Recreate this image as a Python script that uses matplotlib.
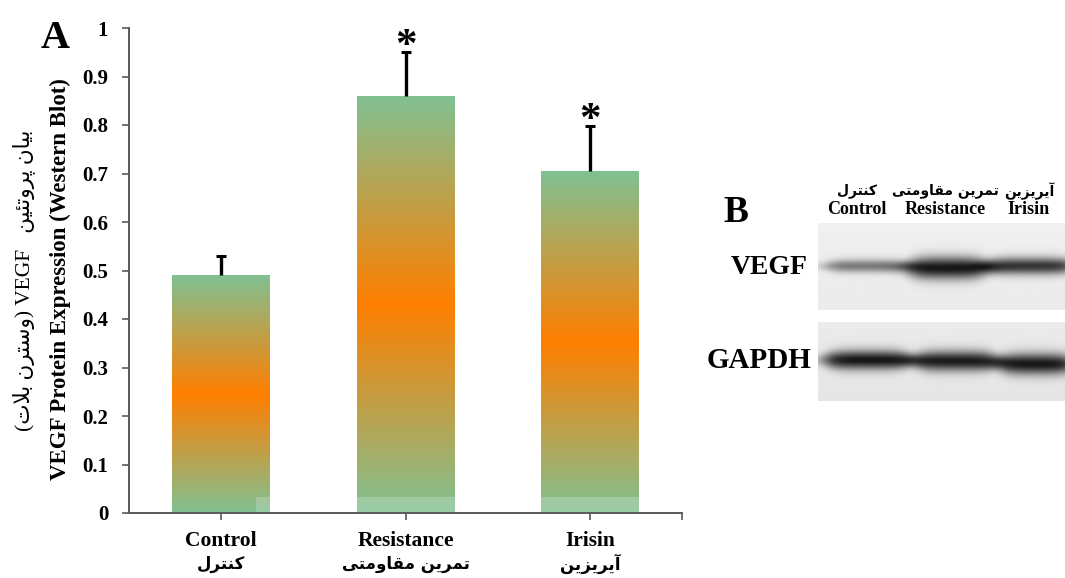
import numpy as np
import matplotlib
matplotlib.use('Agg')
import matplotlib.pyplot as plt
from matplotlib.colors import LinearSegmentedColormap
from matplotlib.patches import Rectangle
import matplotlib.transforms as mtransforms

# ---------------- data ----------------
categories_en = ['Control', 'Resistance', 'Irisin']
# Persian labels (presentation forms, visual order)
categories_fa = ['\uFEDD\uFEAE\uFE98\uFEE8\uFEDB',
                 '\uFEF0\uFE98\uFEE3\uFEED\uFE8E\uFED8\uFEE3 \uFEE6\uFEF3\uFEAE\uFEE4\uFE97',
                 '\uFEE6\uFEF3\uFEB0\uFEF3\uFEAE\uFEF3\uFE81']
means = [0.49, 0.86, 0.705]
errors = [0.04, 0.09, 0.092]
significant = [False, True, True]
yticks = [0, 0.1, 0.2, 0.3, 0.4, 0.5, 0.6, 0.7, 0.8, 0.9, 1.0]
ytick_labels = ['0', '0.1', '0.2', '0.3', '0.4', '0.5', '0.6', '0.7', '0.8', '0.9', '1']
ylabel_en = 'VEGF Protein Expression (Western Blot)'
ylabel_fa = ('(\uFE95\uFEFC\uFE91 \uFEE5\uFEAE\uFE98\uFEB3\uFEED) VEGF   '
             '\uFEE6\uFEF4\uFE8C\uFE97\uFEED\uFEAE\uFB58 \uFEE5\uFE8E\uFEF4\uFE91')
blot_rows = ['VEGF', 'GAPDH']
vegf_band = [0.45, 0.84, 0.72]      # relative band darkness
gapdh_band = [0.82, 0.8, 0.82]

# ---------------- figure ----------------
W, H = 1065, 578
fig = plt.figure(figsize=(W / 100, H / 100), dpi=100)
fig.patch.set_facecolor('white')

def fx(px):
    return px / W

def fy(py):
    return 1 - py / H

SERIF = ['Liberation Serif', 'DejaVu Sans']
SANS = ['DejaVu Sans']
axis_col = '#595959'

ax = fig.add_axes([fx(129), fy(513), fx(682) - fx(129), fy(28) - fy(513)])
x = np.arange(len(categories_en))
bw = 0.53
bars = ax.bar(x, means, width=bw, color='none', edgecolor='none', zorder=2)

cmap = LinearSegmentedColormap.from_list('gog', ['#80c192', '#ff7f00', '#80c192'])
grad = np.linspace(0, 1, 256).reshape(-1, 1)
for b in bars:
    x0, w, h = b.get_x(), b.get_width(), b.get_height()
    im = ax.imshow(grad, cmap=cmap, extent=[x0, x0 + w, 0, h], origin='lower',
                   aspect='auto', zorder=2, interpolation='bilinear')
    im.set_clip_path(b)

tops = np.array(means) + np.array(errors)
ax.vlines(x, means, tops, colors='black', linewidth=2.4, zorder=3)
ax.plot(x, tops, linestyle='none', marker='_', markersize=7, markeredgewidth=2.2,
        color='black', zorder=3)

for i, sig in enumerate(significant):
    if sig:
        ax.annotate('*', (x[i], tops[i]), xytext=(0, -10),
                    textcoords='offset points', ha='center', va='bottom',
                    fontsize=31, fontweight='bold', family=SERIF, color='black')

# faint watermark overlay at the bottom
ax.add_patch(Rectangle((0.19, 0), 3, 0.033, facecolor='white', alpha=0.2,
                       edgecolor='none', zorder=2.2))

ax.set_xlim(-0.5, 2.5)
ax.set_ylim(0, 1)
for s in ['top', 'right']:
    ax.spines[s].set_visible(False)
for s in ['left', 'bottom']:
    ax.spines[s].set_color(axis_col)
    ax.spines[s].set_linewidth(1.4)
    ax.spines[s].set_zorder(4)

ax.set_yticks(yticks)
ax.set_yticklabels(ytick_labels, family=SERIF, fontweight='bold', fontsize=15)
ax.tick_params(axis='y', direction='out', length=5, width=1.2, color=axis_col, pad=10)
ax.set_xticks(list(x) + [2.5])
ax.set_xticklabels([''] * (len(x) + 1))
ax.tick_params(axis='x', direction='out', length=5, width=1.2, color=axis_col)

trans = mtransforms.blended_transform_factory(ax.transData, fig.transFigure)
for i in range(len(x)):
    ax.text(x[i], fy(541), categories_en[i], transform=trans, ha='center', va='center',
            family=SERIF, fontweight='bold', fontsize=15.5)
    ax.text(x[i], fy(564), categories_fa[i], transform=trans, ha='center', va='center',
            family=SANS, fontweight='bold', fontsize=12)

fig.text(fx(60), fy(279), ylabel_en, rotation=90, ha='center', va='center',
         family=SERIF, fontweight='bold', fontsize=16.5)
fig.text(fx(24), fy(280), ylabel_fa, rotation=90, ha='center', va='center',
         family=SERIF, fontsize=15.5)

fig.text(fx(55), fy(38), 'A', ha='center', va='center', family=SERIF,
         fontweight='bold', fontsize=29)
fig.text(fx(736), fy(213), 'B', ha='center', va='center', family=SERIF,
         fontweight='bold', fontsize=27)

# ---------------- panel B: western blot ----------------
lane_cols = [857, 945, 1029]
for i in range(3):
    fig.text(fx(lane_cols[i]), fy(191), categories_fa[i], ha='center', va='center',
             family=SANS, fontweight='bold', fontsize=10)
    fig.text(fx(lane_cols[i]), fy(209), categories_en[i], ha='center', va='center',
             family=SERIF, fontweight='bold', fontsize=13)

def blot(y0, y1, bg, lanes, intens, cys, sys):
    xs = np.arange(818, 1066) + 0.5
    ys = np.arange(y0, y1) + 0.5
    X, Y = np.meshgrid(xs, ys)
    img = np.full(X.shape, bg) - 0.02 * (Y - y0) / (y1 - y0)
    for (a, b), k, cy, sy in zip(lanes, intens, cys, sys):
        rect = 1 / (1 + np.exp(-(X - a) / 6)) * 1 / (1 + np.exp((X - b) / 6))
        prof = np.exp(-((Y - cy) / (sy * (0.55 + 0.45 * rect))) ** 2)
        img = img - k * rect * prof
    img = np.clip(img, 0, 1)
    bax = fig.add_axes([fx(818), fy(y1), fx(1065) - fx(818), fy(y0) - fy(y1)])
    bax.imshow(img, cmap='gray', vmin=0, vmax=1, aspect='auto',
               extent=[818, 1066, y1, y0], interpolation='bilinear')
    bax.axis('off')

blot(223, 310, 0.94,
     [(826, 910), (908, 988), (986, 1075)], vegf_band,
     [266, 268, 266], [6.5, 11, 8.5])
blot(322, 401, 0.92,
     [(825, 912), (914, 998), (999, 1075)], gapdh_band,
     [360, 361, 364], [9.5, 10, 10.5])

fig.text(fx(808), fy(267), blot_rows[0], ha='right', va='center', family=SERIF,
         fontweight='bold', fontsize=20)
fig.text(fx(812), fy(361), blot_rows[1], ha='right', va='center', family=SERIF,
         fontweight='bold', fontsize=21)

fig.savefig('out.png', dpi=100, facecolor='white')
